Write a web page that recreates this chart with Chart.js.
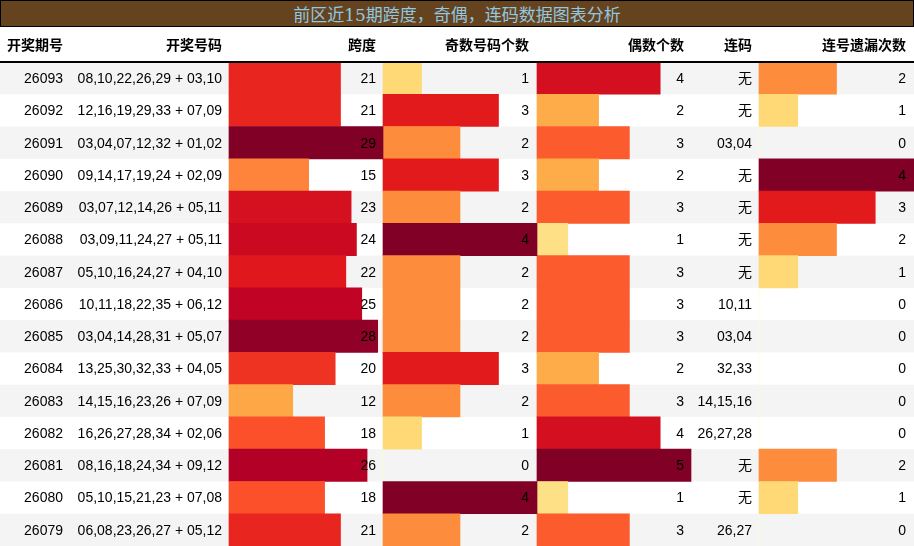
<!DOCTYPE html>
<html>
<head>
<meta charset="utf-8">
<script src="https://cdn.jsdelivr.net/npm/chart.js@4/dist/chart.umd.min.js"></script>
<style>
  body { margin: 0; background: #fff; }
  #title { position: absolute; left: 0; top: 0; width: 912px; height: 25px; background: #66431F; border: 1px solid #000;
           color: #8FC8E0; font: 17px "DejaVu Serif", "Noto Sans CJK SC", serif; text-align: center; line-height: 25px; }
  #wrap { position: absolute; left: 0; top: 0; }
</style>
</head>
<body>
<div id="wrap"><canvas id="tableChart" width="914" height="546"></canvas></div>
<div id="title"><span style="font-family:'Noto Sans CJK SC'">前区近</span>15<span style="font-family:'Noto Sans CJK SC'">期跨度，奇偶，连码数据图表分析</span></div>
<script>
// data
const periods = ['26093','26092','26091','26090','26089','26088','26087','26086','26085','26084','26083','26082','26081','26080','26079'];
const numbers = ['08,10,22,26,29 + 03,10','12,16,19,29,33 + 07,09','03,04,07,12,32 + 01,02','09,14,17,19,24 + 02,09',
  '03,07,12,14,26 + 05,11','03,09,11,24,27 + 05,11','05,10,16,24,27 + 04,10','10,11,18,22,35 + 06,12',
  '03,04,14,28,31 + 05,07','13,25,30,32,33 + 04,05','14,15,16,23,26 + 07,09','16,26,27,28,34 + 02,06',
  '08,16,18,24,34 + 09,12','05,10,15,21,23 + 07,08','06,08,23,26,27 + 05,12'];
const spans = [21,21,29,15,23,24,22,25,28,20,12,18,26,18,21];
const oddCounts = [1,3,2,3,2,4,2,2,2,3,2,1,0,4,2];
const evenCounts = [4,2,3,2,3,1,3,3,3,2,3,4,5,1,3];
const consecutive = ['无','无','03,04','无','无','无','无','10,11','03,04','32,33','14,15,16','26,27,28','无','无','26,27'];
const missCounts = [2,1,0,4,3,2,1,0,0,0,0,0,2,1,0];
const headers = ['开奖期号','开奖号码','跨度','奇数号码个数','偶数个数','连码','连号遗漏次数'];

// column layout (pixels)
const colRight = [63, 222, 376, 529, 684, 752, 906];
const barCols = [
  { start: 229, width: 154, max: 29, values: spans },
  { start: 383, width: 154, max: 4, values: oddCounts },
  { start: 537, width: 154, max: 5, values: evenCounts },
  { start: 759, width: 155, max: 4, values: missCounts }
];

const palette = ['#ffffcc','#ffeda0','#fed976','#feb24c','#fd8d3c','#fc4e2a','#e31a1c','#bd0026','#800026'];
function hexToRgb(h) { return [1,3,5].map(i => parseInt(h.substr(i,2),16)); }
function heat(t) {
  const p = Math.max(0, Math.min(1, t)) * (palette.length - 1);
  const i = Math.min(Math.floor(p), palette.length - 2), f = p - i;
  const a = hexToRgb(palette[i]), b = hexToRgb(palette[i+1]);
  return 'rgb(' + a.map((v,k) => Math.round(v + (b[k]-v)*f)).join(',') + ')';
}

const datasets = barCols.map(c => ({
  data: c.values.map(v => [c.start, c.start + v / c.max * c.width]),
  backgroundColor: c.values.map(v => heat(v / c.max)),
  barPercentage: 1,
  categoryPercentage: 1,
  grouped: false,
  borderWidth: 0
}));

const tablePlugin = {
  id: 'tablePlugin',
  beforeDatasetsDraw(chart) {
    const ctx = chart.ctx, y = chart.scales.y;
    const h = y.getPixelForValue(1) - y.getPixelForValue(0);
    ctx.save();
    ctx.fillStyle = '#f4f4f4';
    periods.forEach((p, i) => {
      if (i % 2 === 0) ctx.fillRect(0, y.getPixelForValue(i) - h/2, 914, h);
    });
    ctx.restore();
  },
  afterDatasetsDraw(chart) {
    const ctx = chart.ctx, y = chart.scales.y;
    ctx.save();
    ctx.textAlign = 'right';
    ctx.textBaseline = 'middle';
    ctx.fillStyle = '#000';
    ctx.font = 'bold 14px "Noto Sans CJK SC", sans-serif';
    headers.forEach((t, i) => ctx.fillText(t, colRight[i], 45));
    ctx.fillRect(0, 61, 914, 2);
    ctx.font = '14px "Liberation Sans", "Noto Sans CJK SC", sans-serif';
    periods.forEach((p, i) => {
      const py = y.getPixelForValue(i);
      const cells = [p, numbers[i], spans[i], oddCounts[i], evenCounts[i], consecutive[i], missCounts[i]];
      cells.forEach((c, k) => ctx.fillText(String(c), colRight[k], py + 1));
    });
    ctx.restore();
  }
};

new Chart(document.getElementById('tableChart'), {
  type: 'bar',
  data: { labels: periods, datasets: datasets },
  options: {
    indexAxis: 'y',
    responsive: false,
    animation: false,
    devicePixelRatio: 1,
    layout: { padding: { top: 62, left: 0, right: 0, bottom: 0 } },
    plugins: { legend: { display: false }, tooltip: { enabled: false } },
    scales: {
      x: { display: false, min: 0, max: 914 },
      y: { display: false }
    }
  },
  plugins: [tablePlugin]
});
</script>
</body>
</html>
